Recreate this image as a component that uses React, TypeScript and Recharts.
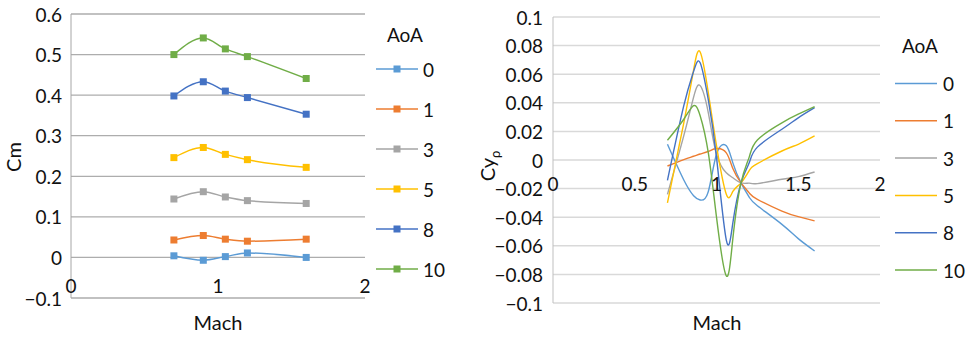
import React from "react"
import { CartesianGrid, Line, LineChart, XAxis, YAxis } from "recharts"

// AoA series shared by both panels
const aoaLabels = ["0", "1", "3", "5", "8", "10"]
const aoaColors = ["#5B9BD5", "#ED7D31", "#A5A5A5", "#FFC000", "#4472C4", "#70AD47"]

// left panel: Cm vs Mach
const machLeft = [0.7, 0.9, 1.05, 1.2, 1.6]
const cm0 = [0.004, -0.007, 0.002, 0.011, 0.0]
const cm1 = [0.043, 0.054, 0.045, 0.04, 0.045]
const cm3 = [0.144, 0.162, 0.149, 0.14, 0.133]
const cm5 = [0.246, 0.271, 0.254, 0.241, 0.222]
const cm8 = [0.398, 0.433, 0.41, 0.394, 0.353]
const cm10 = [0.5, 0.541, 0.514, 0.495, 0.441]
const cmTicks = [-0.1, 0, 0.1, 0.2, 0.3, 0.4, 0.5, 0.6]
const machTicksLeft = [0, 1, 2]

// right panel: Cy_rho vs Mach
const machRight = [0.7, 0.8, 0.86, 0.9, 0.95, 1.0, 1.06, 1.1, 1.15, 1.2, 1.25, 1.4, 1.5, 1.6]
const cy0 = [0.011, -0.014, -0.025, -0.028, -0.022, 0.004, 0.01, -0.002, -0.016, -0.026, -0.032, -0.045, -0.055, -0.0636]
const cy1 = [-0.0042, 0.0003, 0.0026, 0.0042, 0.006, 0.008, 0.005, -0.006, -0.016, -0.023, -0.0275, -0.0357, -0.0396, -0.0426]
const cy3 = [-0.024, 0.017, 0.044, 0.052, 0.033, 0.004, -0.009, -0.0124, -0.016, -0.0162, -0.0165, -0.0135, -0.0116, -0.0084]
const cy5 = [-0.03, 0.026, 0.063, 0.0755, 0.047, 0.01, -0.024, -0.022, -0.016, -0.0075, -0.0025, 0.0063, 0.011, 0.0168]
const cy8 = [-0.0142, 0.038, 0.062, 0.068, 0.042, 0.002, -0.056, -0.044, -0.016, -0.002, 0.009, 0.0215, 0.0295, 0.0366]
const cy10 = [0.0138, 0.0285, 0.038, 0.031, 0.005, -0.04, -0.081, -0.055, -0.016, 0.002, 0.014, 0.026, 0.032, 0.0373]
const cyTicks = [-0.1, -0.08, -0.06, -0.04, -0.02, 0, 0.02, 0.04, 0.06, 0.08, 0.1]
const machTicksRight = [0, 0.5, 1, 1.5, 2]

const FONT = "Lato, 'Open Sans', sans-serif"

function buildRows(xs: number[], series: number[][]) {
  return xs.map((m, i) => {
    const row: Record<string, number> = { mach: m }
    series.forEach((s, k) => (row["s" + k] = s[i]))
    return row
  })
}

const leftData = buildRows(machLeft, [cm0, cm1, cm3, cm5, cm8, cm10])
const rightData = buildRows(machRight, [cy0, cy1, cy3, cy5, cy8, cy10])

const fmt = (v: number) => String(Math.round(v * 1000) / 1000).replace("-", "\u2212")

const YTick = (props: any) => (
  <text x={props.x} y={props.y} textAnchor="end" dominantBaseline="central" fontSize={19} fontFamily={FONT} fill="#111">
    {fmt(props.payload.value)}
  </text>
)

// x labels sit just under the zero line, like the Excel horizontal axis crossing at 0
const makeXTick = (lift: number) => (props: any) => (
  <text
    key={props.index}
    x={props.x}
    y={props.y - lift}
    textAnchor="middle"
    dominantBaseline="central"
    fontSize={19}
    fontFamily={FONT}
    fill="#111"
  >
    {fmt(props.payload.value)}
  </text>
)

const squareDot = (p: any) => {
  if (p.cx == null || p.cy == null) return <g key={p.key ?? p.index} />
  return <rect key={p.key ?? p.index} x={p.cx - 3.5} y={p.cy - 3.5} width={7} height={7} fill={p.stroke} />
}

export default function App() {
  return (
    <div style={{ position: "absolute", left: 0, top: 0, width: 968, height: 338, background: "#fff" }}>
      <div style={{ position: "absolute", left: 0, top: 0 }}>
        <LineChart width={480} height={338} data={leftData} margin={{ top: 14, right: 115, bottom: 39, left: 0 }}>
          <CartesianGrid vertical={false} stroke="#ADADAD" strokeWidth={1.3} />
          <XAxis
            dataKey="mach"
            type="number"
            domain={[0, 2]}
            ticks={machTicksLeft}
            interval={0}
            height={1}
            tickSize={0}
            tickMargin={0}
            axisLine={false}
            tickLine={false}
            tick={makeXTick(41 - 28)}
          />
          <YAxis
            type="number"
            domain={[-0.1, 0.6]}
            ticks={cmTicks}
            interval={0}
            width={71}
            tickSize={0}
            tickMargin={9}
            tickLine={false}
            axisLine={{ stroke: "#A6A6A6" }}
            tick={<YTick />}
          />
          {aoaLabels.map((a, k) => (
            <Line
              key={a}
              type="monotone"
              dataKey={"s" + k}
              stroke={aoaColors[k]}
              strokeWidth={1.5}
              dot={squareDot}
              activeDot={false}
              isAnimationActive={false}
            />
          ))}
        </LineChart>
      </div>
      <div style={{ position: "absolute", left: 480, top: 0 }}>
        <LineChart width={488} height={338} data={rightData} margin={{ top: 17, right: 88, bottom: 34, left: 0 }}>
          <CartesianGrid vertical={false} stroke="#D9D9D9" strokeWidth={1.5} />
          <XAxis
            dataKey="mach"
            type="number"
            domain={[0, 2]}
            ticks={machTicksRight}
            interval={0}
            height={1}
            tickSize={0}
            tickMargin={0}
            axisLine={false}
            tickLine={false}
            tick={makeXTick(144 - 24.5)}
          />
          <YAxis
            type="number"
            domain={[-0.1, 0.1]}
            ticks={cyTicks}
            interval={0}
            width={73}
            tickSize={0}
            tickMargin={10}
            tickLine={false}
            axisLine={{ stroke: "#BFBFBF" }}
            tick={<YTick />}
          />
          {aoaLabels.map((a, k) => (
            <Line
              key={a}
              type="natural"
              dataKey={"s" + k}
              stroke={aoaColors[k]}
              strokeWidth={1.4}
              dot={false}
              activeDot={false}
              isAnimationActive={false}
            />
          ))}
        </LineChart>
      </div>
      <svg width={968} height={338} style={{ position: "absolute", left: 0, top: 0, pointerEvents: "none" }} fontFamily={FONT} fill="#111">
        <text x={13} y={157} fontSize={20} textAnchor="middle" dominantBaseline="central" transform="rotate(-90 13 157)">
          Cm
        </text>
        <text x={218} y={322} fontSize={20} textAnchor="middle" dominantBaseline="central">
          Mach
        </text>
        <text x={487} y={166} fontSize={20} textAnchor="middle" dominantBaseline="central" transform="rotate(-90 487 166)">
          Cy<tspan fontSize={13} baselineShift="sub">ρ</tspan>
        </text>
        <text x={717} y={322} fontSize={20} textAnchor="middle" dominantBaseline="central">
          Mach
        </text>

        <text x={405} y={34} fontSize={19} textAnchor="middle" dominantBaseline="central">
          AoA
        </text>
        {aoaLabels.map((a, k) => {
          const y = 69 + 40 * k
          return (
            <g key={a}>
              <line x1={376} x2={418} y1={y} y2={y} stroke={aoaColors[k]} strokeWidth={1.5} />
              <rect x={393.5} y={y - 3.5} width={7} height={7} fill={aoaColors[k]} />
              <text x={423} y={y} fontSize={19} dominantBaseline="central">
                {a}
              </text>
            </g>
          )
        })}

        <text x={920} y={45} fontSize={19} textAnchor="middle" dominantBaseline="central">
          AoA
        </text>
        {aoaLabels.map((a, k) => {
          const y = 83.5 + 37.3 * k
          return (
            <g key={a}>
              <line x1={895} x2={937} y1={y} y2={y} stroke={aoaColors[k]} strokeWidth={1.5} />
              <text x={943} y={y} fontSize={19} dominantBaseline="central">
                {a}
              </text>
            </g>
          )
        })}
      </svg>
    </div>
  )
}
